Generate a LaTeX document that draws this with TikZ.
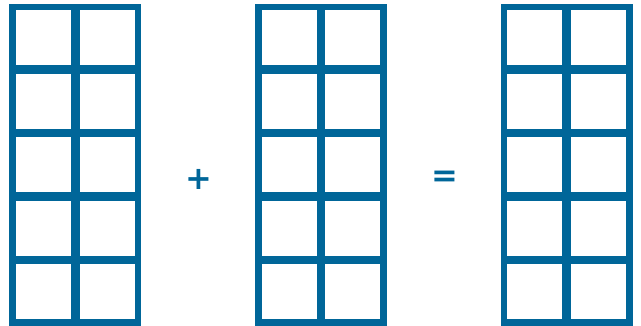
\documentclass[tikz,border=0pt]{standalone}
\usepackage{fontspec}
\newfontfamily\signfont{DejaVu Sans}
\definecolor{gridblue}{RGB}{0,102,153}

\begin{document}
\begin{tikzpicture}[x=1pt, y=-1pt,
    cell/.style={draw=gridblue, line width=6.5pt, inner sep=0pt, minimum size=61.5pt},
    sign/.style={text=gridblue, font=\signfont\bfseries\fontsize{32}{32}\selectfont, inner sep=0pt}]
    \useasboundingbox (0,0) rectangle (641,326);

    % three columns of 2 x 5 squares
    \foreach \g in {0,1,2}
      \foreach \r in {0,...,4}
        \foreach \c in {0,1}
          \node[cell] (g\g-\r-\c) at (43.45+\c*63.6+\g*245.75, 37.75+\r*63.5) {};

    \node[sign] (plus) at (198.5,179.5) {+};
    \node[sign] (equals) at (445,179) {=};
\end{tikzpicture}
\end{document}
